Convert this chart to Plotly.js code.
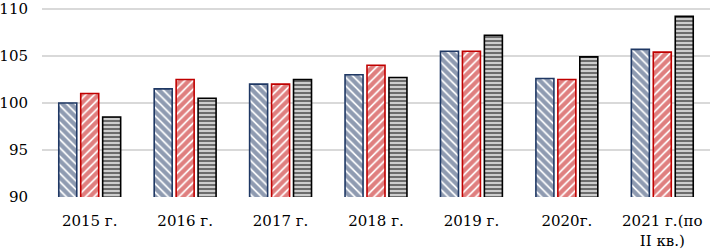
<!DOCTYPE html>
<html><head><meta charset="utf-8">
<script src="https://cdn.plot.ly/plotly-3.0.1.min.js"></script>
<style>html,body{margin:0;padding:0;background:#fff}#chart{width:710px;height:252px}</style>
</head><body><div id="chart"></div>
<script>
const categories = ["2015 г.", "2016 г.", "2017 г.", "2018 г.", "2019 г.", "2020г.", "2021 г.(по<br>II кв.)"];
const seriesA = [100.0, 101.5, 102.0, 103.0, 105.5, 102.6, 105.7];
const seriesB = [101.0, 102.5, 102.0, 104.0, 105.5, 102.5, 105.4];
const seriesC = [98.5, 100.5, 102.5, 102.7, 107.2, 104.9, 109.2];
const yTicks = [90, 95, 100, 105, 110];

function bar(y, col, shape, size, bg, sol) {
  return {
    type: 'bar', x: categories, y: y,
    marker: {
      color: '#ffffff',
      line: {color: col, width: 1.6},
      pattern: {shape: shape, fgcolor: col, bgcolor: bg, size: size, solidity: sol, fillmode: 'overlay'}
    },
    hoverinfo: 'skip'
  };
}
const data = [
  bar(seriesA, '#1f3864', '\\', 6, '#ffffff', 0.7),
  bar(seriesB, '#c00000', '/', 6, '#ffffff', 0.7),
  bar(seriesC, '#000000', '-', 4, '#d8d8d8', 0.55)
];
const layout = {
  width: 710, height: 252,
  margin: {l: 42, r: 0, t: 7, b: 55},
  showlegend: false,
  barmode: 'group', bargap: 0.31, bargroupgap: 0.18,
  paper_bgcolor: '#fff', plot_bgcolor: '#fff',
  font: {family: 'DejaVu Serif', size: 15, color: '#000'},
  xaxis: {type: 'category', showgrid: false, showline: false, zeroline: false,
          ticks: 'outside', ticklen: 10, tickcolor: 'rgba(0,0,0,0)',
          tickfont: {size: 15, family: 'DejaVu Serif'}},
  yaxis: {range: [90, 110.2], tickmode: 'array', tickvals: yTicks, ticktext: yTicks.map(String), showgrid: true, gridcolor: '#d9d9d9', gridwidth: 1.5,
          zeroline: false, showline: false, ticks: 'outside', ticklen: 10, tickcolor: 'rgba(0,0,0,0)',
          ticklabeloverflow: 'allow', tickfont: {size: 15, family: 'DejaVu Serif'}}
};
Plotly.newPlot('chart', data, layout, {displayModeBar: false, staticPlot: true});
</script></body></html>
